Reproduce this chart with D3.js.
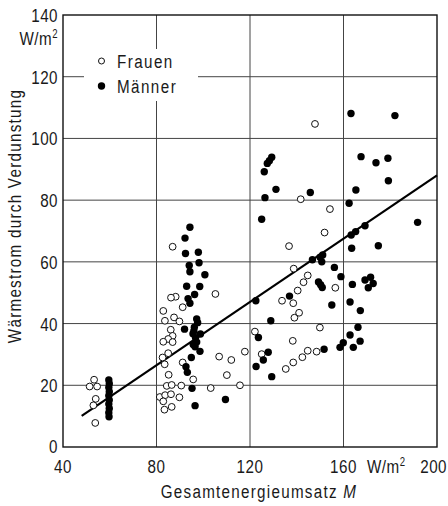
<!DOCTYPE html>
<html>
<head>
<meta charset="utf-8">
<script src="https://cdnjs.cloudflare.com/ajax/libs/d3/7.8.5/d3.min.js"></script>
<style>
    body { margin:0; background:#fff; }
    svg text { font-family:"Liberation Sans",Arial,sans-serif; fill:#1a1a1a; }
    .tick-label { font-size:19px; letter-spacing:0.6px; }
    .title { font-size:19px; letter-spacing:1.6px; }
    .legend { font-size:19px; letter-spacing:1.8px; }
</style>
</head>
<body>
<svg id="chart"></svg>
<script>
// Frauen (open circles): [M, Verdunstung]
var frauen = [
    [53.3,21.8],[51.4,19.6],[54.6,19.6],[54.0,15.6],[53.0,13.5],[53.8,7.8],
    [82.9,44.1],[88.2,48.7],[86.2,48.4],[91.2,45.3],[83.6,40.9],[87.5,42.0],
    [89.8,40.7],[86.1,38.0],[86.9,36.0],[85.0,35.0],[82.9,34.1],[86.9,34.0],
    [85.0,30.4],[82.6,29.0],[83.5,26.8],[91.2,27.4],[85.2,23.4],[84.4,19.8],
    [86.5,20.1],[90.6,19.9],[81.4,16.2],[83.7,16.8],[86.2,17.1],[89.8,16.1],
    [82.9,14.8],[83.4,12.1],[86.5,13.0],[86.9,64.9],[95.7,21.9],
    [105.2,49.6],[106.8,29.3],[103.2,19.1],[112.0,28.2],[110.1,23.3],[115.7,20.0],[117.8,30.9],
    [122.1,37.4],[125.0,30.1],[135.3,25.3],[138.5,27.4],[142.4,29.1],[144.7,31.2],
    [148.5,30.9],[138.3,34.4],[149.9,38.7],[133.7,47.4],[138.5,46.6],[139.0,41.9],
    [141.0,43.5],[140.4,50.7],[142.9,53.4],[144.7,55.6],[138.7,57.8],[156.5,51.6],
    [136.7,65.1],[151.9,69.5],[154.2,77.1],[141.7,80.3],[147.8,104.7]
];

// Maenner (filled circles)
var maenner = [
    [59.6,21.7],[59.8,20.5],[59.6,19.3],[59.8,17.9],[59.6,16.6],[59.8,15.2],
    [59.6,13.9],[59.8,12.5],[59.6,11.1],[59.7,9.8],
    [94.3,71.2],[92.2,67.7],[92.4,62.7],[97.9,63.1],[98.2,59.7],[94.0,58.8],
    [94.3,56.8],[100.7,55.8],[92.9,52.1],[98.5,52.0],[96.3,49.4],[93.5,48.1],
    [94.3,46.6],[97.2,41.5],[97.6,40.3],[92.0,38.2],[96.2,38.8],[96.0,37.6],
    [95.6,36.7],[98.8,36.6],[96.7,35.4],[97.2,34.0],[95.7,33.2],[96.5,32.5],
    [98.6,31.0],[94.9,29.0],[92.6,26.0],[93.2,24.2],[95.2,19.0],[96.5,13.4],[109.5,15.4],
    [122.5,47.4],[128.9,40.9],[123.6,35.5],[127.8,30.7],[125.7,28.2],[122.6,26.1],
    [129.3,22.8],[136.9,48.9],
    [146.7,60.7],[150.0,61.5],[151.1,62.2],[150.7,60.0],[149.3,53.5],[150.2,52.6],[150.9,51.7],
    [156.1,58.2],[158.9,55.2],[163.5,64.4],[163.8,52.7],[169.2,54.1],[171.6,55.0],
    [172.7,53.0],[170.6,51.6],[155.0,46.0],[162.8,47.0],[167.2,44.2],[166.2,38.8],
    [162.8,36.3],[167.1,34.3],[159.9,33.8],[158.5,32.3],[164.2,32.3],[151.7,31.7],
    [125.0,73.8],[126.4,80.8],[131.1,83.5],[126.1,89.2],[127.4,91.9],[128.3,92.8],
    [129.3,93.9],[145.8,82.5],
    [163.2,108.1],[182.0,107.4],[167.5,94.1],[173.9,92.1],[179.0,93.6],[179.2,86.3],
    [165.3,83.3],[162.4,79.0],[191.7,72.8],[169.2,71.7],[165.2,69.8],[163.3,68.7],[174.9,65.2]
];

// regression line end points
var fitLine = [[48,10.1],[200,88]];

var xTicks = [40, 80, 120, 160, 200];
var yTicks = [0, 20, 40, 60, 80, 100, 120, 140];
var xGrid = [80, 120, 160];
var yGrid = [20, 40, 60, 80, 100, 120];

var screen = {width:448, height:506};
var margins = {top:15, bottom:59, left:63, right:11};
var graph = {
    width:screen.width-margins.left-margins.right,
    height:screen.height-margins.top-margins.bottom
};
var narrow = 0.8; // squeeze glyphs like the narrow typeface of the original

var svg = d3.select("#chart")
    .attr("width", screen.width)
    .attr("height", screen.height);

var xScale = d3.scaleLinear().domain([40, 200]).range([margins.left, margins.left+graph.width]);
var yScale = d3.scaleLinear().domain([0, 140]).range([margins.top+graph.height, margins.top]);

// text placed at x,y and squeezed horizontally
var addText = function(parent, x, y, cls, anchor, rot)
{
    return parent.append("g")
        .attr("transform", "translate("+x+","+y+")" + (rot ? " rotate("+rot+")" : "") + " scale("+narrow+",1)")
        .append("text")
        .classed(cls, true)
        .attr("text-anchor", anchor || "start");
}

// grid
var grid = svg.append("g").attr("stroke", "#444").attr("stroke-width", 1);
grid.selectAll(".vg").data(xGrid).enter().append("line")
    .attr("x1", function(d) { return xScale(d); })
    .attr("x2", function(d) { return xScale(d); })
    .attr("y1", yScale(0)).attr("y2", yScale(140));
grid.selectAll(".hg").data(yGrid).enter().append("line")
    .attr("x1", xScale(40)).attr("x2", xScale(200))
    .attr("y1", function(d) { return yScale(d); })
    .attr("y2", function(d) { return yScale(d); });

// legend background cuts grid
svg.append("rect")
    .attr("x", 84).attr("y", 49).attr("width", 114).attr("height", 52)
    .attr("fill", "#fff");

// frame
svg.append("rect")
    .attr("x", xScale(40)).attr("y", yScale(140))
    .attr("width", graph.width).attr("height", graph.height)
    .attr("fill", "none").attr("stroke", "#111").attr("stroke-width", 1.4);

// fit line
var line = d3.line()
    .x(function(d) { return xScale(d[0]); })
    .y(function(d) { return yScale(d[1]); });
svg.append("path")
    .datum(fitLine)
    .attr("d", line)
    .attr("fill", "none").attr("stroke", "#000").attr("stroke-width", 2.2);

// points
svg.append("g").selectAll("circle").data(frauen).enter().append("circle")
    .attr("cx", function(d) { return xScale(d[0]); })
    .attr("cy", function(d) { return yScale(d[1]); })
    .attr("r", 3.4)
    .attr("fill", "#fff").attr("stroke", "#111").attr("stroke-width", 1);
svg.append("g").selectAll("circle").data(maenner).enter().append("circle")
    .attr("cx", function(d) { return xScale(d[0]); })
    .attr("cy", function(d) { return yScale(d[1]); })
    .attr("r", 3.7)
    .attr("fill", "#000");

// tick labels
var labels = svg.append("g");
yTicks.forEach(function(d) {
    addText(labels, 58, yScale(d) + (d == 0 ? 6 : 7), "tick-label", "end").text(d);
});
xTicks.forEach(function(d) {
    // last label sits flush with the right edge of the page
    if (d == 200) addText(labels, screen.width - 1, 473, "tick-label", "end").text(d);
    else addText(labels, xScale(d), 473, "tick-label", "middle").text(d);
});

// units
var yUnit = addText(labels, 58, 45, "tick-label", "end");
yUnit.append("tspan").text("W/m");
yUnit.append("tspan").attr("dy", -7).attr("font-size", 12).text("2");
var xUnit = addText(labels, 367, 473, "tick-label", "start");
xUnit.append("tspan").text("W/m");
xUnit.append("tspan").attr("dy", -7).attr("font-size", 12).text("2");

// axis titles
var xTitle = addText(labels, 259, 498, "title", "middle");
xTitle.append("tspan").text("Gesamtenergieumsatz ");
xTitle.append("tspan").attr("font-style", "italic").text("M");

addText(labels, 21, 216, "title", "middle", -90)
    .text("Wärmestrom durch Verdunstung");

// legend
var legend = svg.append("g");
legend.append("circle").attr("cx", 101.5).attr("cy", 61).attr("r", 3)
    .attr("fill", "#fff").attr("stroke", "#111").attr("stroke-width", 1);
legend.append("circle").attr("cx", 101.5).attr("cy", 86).attr("r", 3.7).attr("fill", "#000");
addText(legend, 117, 68, "legend").text("Frauen");
addText(legend, 117, 93, "legend").text("Männer");
</script>
</body>
</html>
